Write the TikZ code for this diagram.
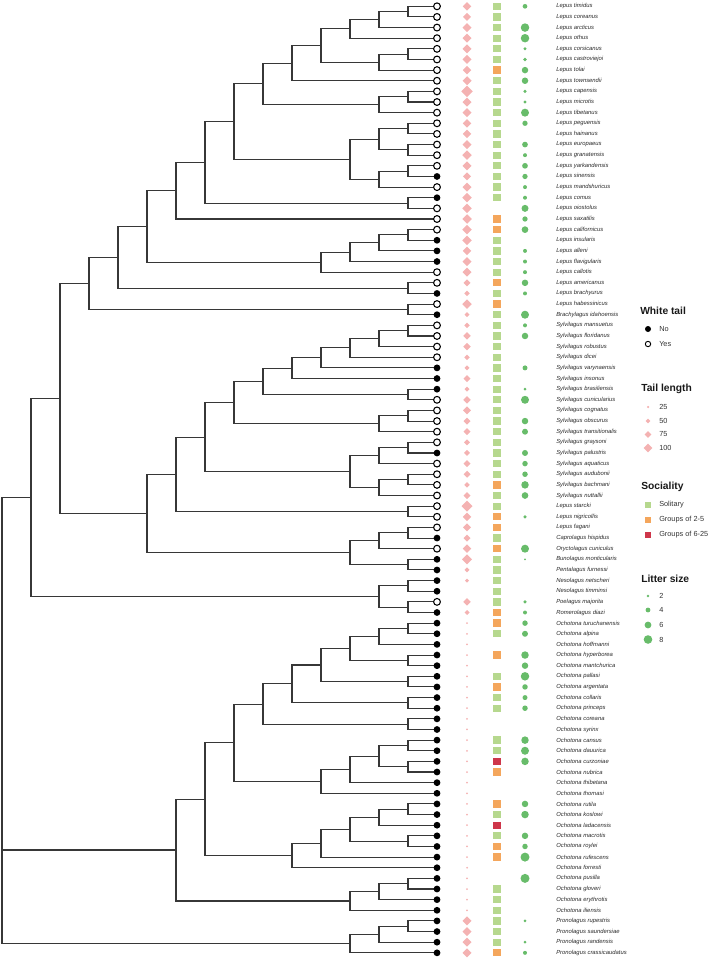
\documentclass[tikz,border=0pt]{standalone}
\usepackage{fontspec}
\setmainfont{Liberation Sans}
\usetikzlibrary{calc}
\definecolor{pinkd}{RGB}{244,178,178}
\definecolor{solg}{RGB}{182,216,142}
\definecolor{grpo}{RGB}{244,166,92}
\definecolor{grpr}{RGB}{206,54,74}
\definecolor{litg}{RGB}{104,188,106}
\definecolor{treec}{RGB}{55,55,55}
\definecolor{labc}{RGB}{40,40,40}
\makeatletter
\newcommand\setY[2]{\expandafter\xdef\csname yy@#1\endcsname{#2}}
\newcommand\getY[1]{\csname yy@#1\endcsname}
\makeatother
\newcommand\inode[4]{%
  \pgfmathsetmacro\tmpy{(\getY{#3}+\getY{#4})/2}%
  \setY{#1}{\tmpy}%
  \pgfmathsetmacro\tmpx{437-29*#2}%
  \coordinate (#1) at (\tmpx,\tmpy);%
  \draw[branch] (#3) -| (#1) |- (#4);%
}
\newcommand\tipdata[6]{%
  \pgfmathsetmacro\ty{\getY{t#1}}%
  \path[wt#2] (t#1) circle[radius=3.4];%
  \ifdim #3pt>0pt\relax
    \pgfmathsetmacro\hw{#3/2}%
    \fill[pinkd] (467-\hw,\ty) -- (467,\ty-\hw) -- (467+\hw,\ty) -- (467,\ty+\hw) -- cycle;%
  \fi
  \ifx#4X\else
    \fill[soc#4] (493.35,\ty-3.65) rectangle ++(7.3,7.3);%
  \fi
  \ifdim #5pt>0pt\relax
    \pgfmathsetmacro\lr{#5/2}%
    \fill[litg] (525,\ty) circle[radius=\lr];%
  \fi
  \node[lab] (lab#1) at (556,\ty) {#6};%
}
\begin{document}
\begin{tikzpicture}[x=0.75pt,y=-0.75pt,
  branch/.style={draw=treec,line width=0.8pt},
  wtN/.style={fill=black},
  wtY/.style={draw=black,fill=white,line width=0.8pt},
  socS/.style={fill=solg},
  socG/.style={fill=grpo},
  socR/.style={fill=grpr},
  lab/.style={font=\fontsize{4.4}{5}\selectfont\itshape,text=labc,anchor=west,inner sep=0pt},
  ltitle/.style={font=\fontsize{7.7}{9}\selectfont\bfseries,text=black!90,anchor=west,inner sep=0pt},
  litem/.style={font=\fontsize{5.5}{6.5}\selectfont,text=black!80,anchor=west,inner sep=0pt}]
\useasboundingbox (0,0) rectangle (709,960);
\foreach \i in {1,...,90}{%
  \pgfmathsetmacro\tmpy{6.3+(\i-1)*10.635}%
  \setY{t\i}{\tmpy}%
  \coordinate (t\i) at (437,\tmpy);}
% Lepus
\inode{a1}{1}{t1}{t2}
\inode{a2}{2}{a1}{t3}
\inode{a3}{3}{a2}{t4}
\inode{a4}{1}{t5}{t6}
\inode{a5}{2}{a4}{t7}
\inode{a6}{4}{a3}{a5}
\inode{a7}{5}{a6}{t8}
\inode{a8}{1}{t9}{t10}
\inode{a9}{2}{a8}{t11}
\inode{a10}{6}{a7}{a9}
\inode{b1}{1}{t12}{t13}
\inode{b2}{1}{t14}{t15}
\inode{b3}{2}{b1}{b2}
\inode{b4}{1}{t16}{t17}
\inode{b5}{2}{b4}{t18}
\inode{b6}{3}{b3}{b5}
\inode{a11}{7}{a10}{b6}
\inode{c1}{1}{t19}{t20}
\inode{a12}{8}{a11}{c1}
\inode{a13}{9}{a12}{t21}
\inode{d1}{1}{t22}{t23}
\inode{d2}{2}{d1}{t24}
\inode{d3}{3}{d2}{t25}
\inode{d4}{4}{d3}{t26}
\inode{a14}{10}{a13}{d4}
\inode{e1}{1}{t27}{t28}
\inode{a15}{11}{a14}{e1}
\inode{f1}{1}{t29}{t30}
\inode{a16}{12}{a15}{f1}
% Sylvilagus
\inode{s1}{1}{t31}{t32}
\inode{s2}{2}{s1}{t33}
\inode{s3}{3}{s2}{t34}
\inode{s4}{4}{s3}{t35}
\inode{s5}{5}{s4}{t36}
\inode{s6}{1}{t37}{t38}
\inode{s7}{6}{s5}{s6}
\inode{s8}{1}{t39}{t40}
\inode{s9}{2}{s8}{t41}
\inode{s10}{7}{s7}{s9}
\inode{s11}{1}{t42}{t43}
\inode{s12}{2}{s11}{t44}
\inode{s13}{1}{t45}{t46}
\inode{s14}{2}{s13}{t47}
\inode{s15}{3}{s12}{s14}
\inode{s16}{8}{s10}{s15}
\inode{s17}{1}{t48}{t49}
\inode{s18}{9}{s16}{s17}
\inode{g1}{1}{t50}{t51}
\inode{g2}{2}{g1}{t52}
\inode{g3}{1}{t53}{t54}
\inode{g4}{3}{g2}{g3}
\inode{s19}{10}{s18}{g4}
\inode{LS}{13}{a16}{s19}
\inode{n1}{1}{t55}{t56}
\inode{n2}{1}{t57}{t58}
\inode{n3}{2}{n1}{n2}
\inode{L}{14}{LS}{n3}
% Ochotona
\inode{o1}{1}{t59}{t60}
\inode{o2}{2}{o1}{t61}
\inode{o3}{1}{t62}{t63}
\inode{o4}{3}{o2}{o3}
\inode{o5}{1}{t64}{t65}
\inode{o6}{4}{o4}{o5}
\inode{o7}{1}{t66}{t67}
\inode{o8}{5}{o6}{o7}
\inode{o9}{1}{t68}{t69}
\inode{o10}{6}{o8}{o9}
\inode{p1}{1}{t70}{t71}
\inode{p2}{1}{t72}{t73}
\inode{p3}{2}{p1}{p2}
\inode{p4}{3}{p3}{t74}
\inode{p5}{4}{p4}{t75}
\inode{o11}{7}{o10}{p5}
\inode{q1}{1}{t76}{t77}
\inode{q2}{2}{q1}{t78}
\inode{q3}{1}{t79}{t80}
\inode{q4}{3}{q2}{q3}
\inode{q5}{4}{q4}{t81}
\inode{q6}{5}{q5}{t82}
\inode{o12}{8}{o11}{q6}
\inode{r1}{1}{t83}{t84}
\inode{r2}{2}{r1}{t85}
\inode{r3}{3}{r2}{t86}
\inode{O}{9}{o12}{r3}
% Pronolagus
\inode{u1}{1}{t87}{t88}
\inode{u2}{2}{u1}{t89}
\inode{P}{3}{u2}{t90}
% root
\inode{root}{15}{L}{P}
\draw[branch] (root) |- (O);
% tips
\tipdata{1}{Y}{8.5}{S}{4.7}{Lepus timidus}
\tipdata{2}{Y}{8}{S}{0}{Lepus coreanus}
\tipdata{3}{Y}{9}{S}{8.5}{Lepus arcticus}
\tipdata{4}{Y}{9}{S}{8.5}{Lepus othus}
\tipdata{5}{Y}{9}{S}{3.3}{Lepus corsicanus}
\tipdata{6}{Y}{9}{S}{3.7}{Lepus castroviejoi}
\tipdata{7}{Y}{8.5}{G}{6.5}{Lepus tolai}
\tipdata{8}{Y}{9}{S}{6.5}{Lepus townsendii}
\tipdata{9}{Y}{11.5}{S}{3.3}{Lepus capensis}
\tipdata{10}{Y}{9}{S}{3.3}{Lepus microtis}
\tipdata{11}{Y}{9}{S}{8}{Lepus tibetanus}
\tipdata{12}{Y}{8.5}{S}{5.3}{Lepus peguensis}
\tipdata{13}{Y}{8.5}{S}{0}{Lepus hainanus}
\tipdata{14}{Y}{9}{S}{5.7}{Lepus europaeus}
\tipdata{15}{Y}{9.5}{S}{4}{Lepus granatensis}
\tipdata{16}{Y}{9}{S}{5.7}{Lepus yarkandensis}
\tipdata{17}{N}{8}{S}{5.3}{Lepus sinensis}
\tipdata{18}{Y}{9}{S}{4}{Lepus mandshuricus}
\tipdata{19}{N}{9.5}{S}{4}{Lepus comus}
\tipdata{20}{Y}{9.5}{X}{7}{Lepus oiostolus}
\tipdata{21}{Y}{9.5}{G}{5.3}{Lepus saxatilis}
\tipdata{22}{Y}{9.5}{G}{6.7}{Lepus californicus}
\tipdata{23}{N}{9.5}{S}{0}{Lepus insularis}
\tipdata{24}{N}{8.5}{S}{4}{Lepus alleni}
\tipdata{25}{N}{9}{S}{4}{Lepus flavigularis}
\tipdata{26}{Y}{9}{S}{4}{Lepus callotis}
\tipdata{27}{Y}{7}{G}{6.5}{Lepus americanus}
\tipdata{28}{N}{5.5}{S}{4}{Lepus brachyurus}
\tipdata{29}{Y}{9.5}{G}{0}{Lepus habessinicus}
\tipdata{30}{N}{5}{S}{8}{Brachylagus idahoensis}
\tipdata{31}{Y}{5.5}{S}{4}{Sylvilagus mansuetus}
\tipdata{32}{Y}{7.5}{S}{6.5}{Sylvilagus floridanus}
\tipdata{33}{Y}{7.5}{S}{0}{Sylvilagus robustus}
\tipdata{34}{Y}{5.5}{S}{0}{Sylvilagus dicei}
\tipdata{35}{N}{5}{S}{5}{Sylvilagus varynaensis}
\tipdata{36}{N}{7}{S}{0}{Sylvilagus insonus}
\tipdata{37}{N}{5}{S}{3}{Sylvilagus brasiliensis}
\tipdata{38}{Y}{7.5}{S}{8}{Sylvilagus cunicularius}
\tipdata{39}{Y}{8}{S}{0}{Sylvilagus cognatus}
\tipdata{40}{Y}{7}{S}{6.5}{Sylvilagus obscurus}
\tipdata{41}{Y}{7}{S}{6}{Sylvilagus transitionalis}
\tipdata{42}{Y}{6}{S}{0}{Sylvilagus graysoni}
\tipdata{43}{N}{6}{S}{6}{Sylvilagus palustris}
\tipdata{44}{Y}{7}{S}{5.5}{Sylvilagus aquaticus}
\tipdata{45}{Y}{7}{S}{5.5}{Sylvilagus audubonii}
\tipdata{46}{Y}{5.5}{G}{7.5}{Sylvilagus bachmani}
\tipdata{47}{Y}{7}{S}{6.7}{Sylvilagus nuttallii}
\tipdata{48}{Y}{11}{S}{0}{Lepus starcki}
\tipdata{49}{Y}{8.5}{G}{3.5}{Lepus nigricollis}
\tipdata{50}{Y}{8}{G}{0}{Lepus fagani}
\tipdata{51}{N}{7}{S}{0}{Caprolagus hispidus}
\tipdata{52}{Y}{8.5}{G}{8}{Oryctolagus cuniculus}
\tipdata{53}{N}{10}{S}{2}{Bunolagus monticularis}
\tipdata{54}{N}{5}{S}{0}{Pentalagus furnessi}
\tipdata{55}{N}{4}{S}{0}{Nesolagus netscheri}
\tipdata{56}{N}{0}{S}{0}{Nesolagus timminsi}
\tipdata{57}{Y}{7.5}{S}{3.5}{Poelagus majorita}
\tipdata{58}{N}{5}{G}{4}{Romerolagus diazi}
\tipdata{59}{N}{2}{G}{5.5}{Ochotona turuchanensis}
\tipdata{60}{N}{2}{S}{6}{Ochotona alpina}
\tipdata{61}{N}{2}{X}{0}{Ochotona hoffmanni}
\tipdata{62}{N}{2}{G}{7.5}{Ochotona hyperborea}
\tipdata{63}{N}{2}{X}{6.5}{Ochotona mantchurica}
\tipdata{64}{N}{2}{S}{8.5}{Ochotona pallasi}
\tipdata{65}{N}{2}{G}{5.5}{Ochotona argentata}
\tipdata{66}{N}{2}{S}{5}{Ochotona collaris}
\tipdata{67}{N}{2}{S}{5.5}{Ochotona princeps}
\tipdata{68}{N}{2}{X}{0}{Ochotona coreana}
\tipdata{69}{N}{2}{X}{0}{Ochotona syrinx}
\tipdata{70}{N}{2}{S}{7.5}{Ochotona cansus}
\tipdata{71}{N}{2}{S}{8}{Ochotona dauurica}
\tipdata{72}{N}{2}{R}{7.5}{Ochotona curzoniae}
\tipdata{73}{N}{2}{G}{0}{Ochotona nubrica}
\tipdata{74}{N}{2}{X}{0}{Ochotona thibetana}
\tipdata{75}{N}{2}{X}{0}{Ochotona thomasi}
\tipdata{76}{N}{2}{G}{6.5}{Ochotona rutila}
\tipdata{77}{N}{2}{S}{7.5}{Ochotona koslowi}
\tipdata{78}{N}{2}{R}{0}{Ochotona ladacensis}
\tipdata{79}{N}{2}{S}{6.5}{Ochotona macrotis}
\tipdata{80}{N}{2}{G}{5.5}{Ochotona roylei}
\tipdata{81}{N}{2}{G}{9}{Ochotona rufescens}
\tipdata{82}{N}{2}{X}{0}{Ochotona forresti}
\tipdata{83}{N}{2}{X}{9}{Ochotona pusilla}
\tipdata{84}{N}{2}{S}{0}{Ochotona gloveri}
\tipdata{85}{N}{2}{S}{0}{Ochotona erythrotis}
\tipdata{86}{N}{2}{S}{0}{Ochotona iliensis}
\tipdata{87}{N}{9}{S}{3}{Pronolagus rupestris}
\tipdata{88}{N}{9}{S}{0}{Pronolagus saundersiae}
\tipdata{89}{N}{9}{S}{3}{Pronolagus randensis}
\tipdata{90}{N}{9}{G}{4}{Pronolagus crassicaudatus}
% legend
\node[ltitle] (lgwt) at (640,311) {White tail};
\fill[black] (648,329) circle[radius=3];
\node[litem] (lgno) at (659,329) {No};
\draw[black,line width=0.7pt] (648,344) circle[radius=2.7];
\node[litem] (lgyes) at (659,344) {Yes};
\node[ltitle] (lgtl) at (641,389) {Tail length};
\fill[pinkd] (646.75,407) -- (648,405.75) -- (649.25,407) -- (648,408.25) -- cycle;
\fill[pinkd] (645.65,421) -- (648,418.65) -- (650.35,421) -- (648,423.35) -- cycle;
\fill[pinkd] (644.65,434.5) -- (648,431.15) -- (651.35,434.5) -- (648,437.85) -- cycle;
\fill[pinkd] (643.65,448) -- (648,443.65) -- (652.35,448) -- (648,452.35) -- cycle;
\node[litem] (lg25) at (659,407) {25};
\node[litem] (lg50) at (659,421) {50};
\node[litem] (lg75) at (659,434.5) {75};
\node[litem] (lg100) at (659,448) {100};
\node[ltitle] (lgsoc) at (641,487) {Sociality};
\fill[solg] (644.75,501.75) rectangle ++(6.5,6.5);
\fill[grpo] (644.75,516.75) rectangle ++(6.5,6.5);
\fill[grpr] (644.75,531.75) rectangle ++(6.5,6.5);
\node[litem] (lgsol) at (659,505) {Solitary};
\node[litem] (lgg1) at (659,520) {Groups of 2-5};
\node[litem] (lgg2) at (659,535) {Groups of 6-25};
\node[ltitle] (lgls) at (641,579) {Litter size};
\fill[litg] (648,596) circle[radius=1.4];
\fill[litg] (648,610) circle[radius=2.4];
\fill[litg] (648,625) circle[radius=3.4];
\fill[litg] (648,639.5) circle[radius=4.3];
\node[litem] (lgl2) at (659,596) {2};
\node[litem] (lgl4) at (659,610) {4};
\node[litem] (lgl6) at (659,625) {6};
\node[litem] (lgl8) at (659,639.5) {8};
\end{tikzpicture}
\end{document}
